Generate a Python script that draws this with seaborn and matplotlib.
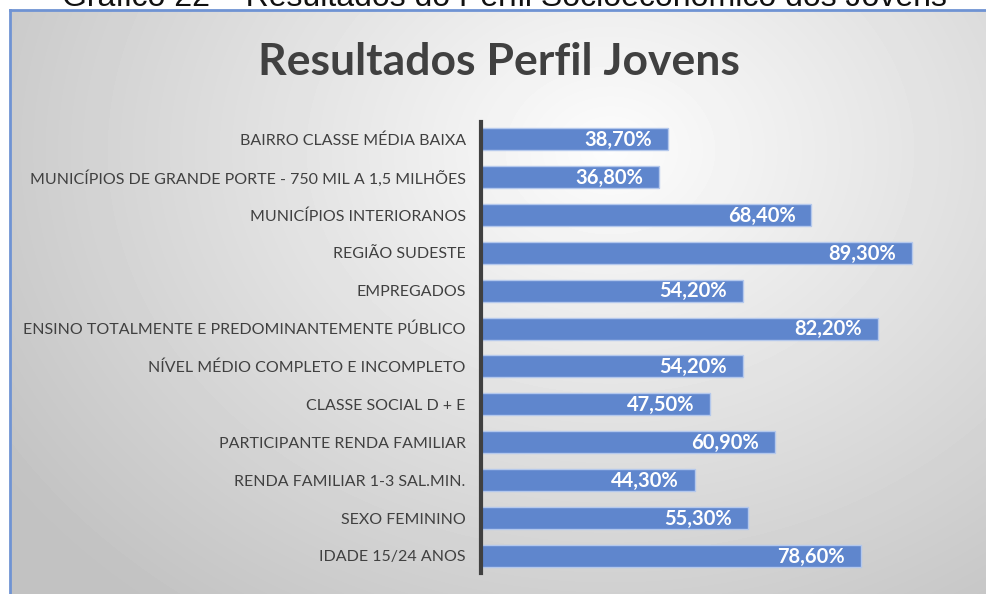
import numpy as np
import seaborn as sns
import matplotlib.pyplot as plt

categorias = [
    "BAIRRO CLASSE MÉDIA BAIXA",
    "MUNICÍPIOS DE GRANDE PORTE - 750 MIL A 1,5 MILHÕES",
    "MUNICÍPIOS INTERIORANOS",
    "REGIÃO SUDESTE",
    "EMPREGADOS",
    "ENSINO TOTALMENTE E PREDOMINANTEMENTE PÚBLICO",
    "NÍVEL MÉDIO COMPLETO E INCOMPLETO",
    "CLASSE SOCIAL D + E",
    "PARTICIPANTE RENDA FAMILIAR",
    "RENDA FAMILIAR 1-3 SAL.MIN.",
    "SEXO FEMININO",
    "IDADE 15/24 ANOS",
]
percentuais = [38.7, 36.8, 68.4, 89.3, 54.2, 82.2, 54.2, 47.5, 60.9, 44.3, 55.3, 78.6]
rotulos = ["38,70%", "36,80%", "68,40%", "89,30%", "54,20%", "82,20%",
           "54,20%", "47,50%", "60,90%", "44,30%", "55,30%", "78,60%"]

titulo = "Resultados Perfil Jovens"
legenda_figura = "Gráfico 22 – Resultados do Perfil Socioeconômico dos Jovens"

sns.set_theme(style="white")
plt.rcParams["font.family"] = ["Lato", "DejaVu Sans"]

fig = plt.figure(figsize=(9.87, 5.94), dpi=100)
fig.patch.set_facecolor("white")

# fundo com gradiente radial dentro da moldura
bg = fig.add_axes([10 / 987, 0, 1 - 10 / 987, 1 - 10 / 594])
yy, xx = np.mgrid[0:584, 0:977]
dist = np.sqrt(((xx - 600) / 700.0) ** 2 + ((yy - 140) / 560.0) ** 2)
tons = np.clip(0.99 - 0.22 * dist, 0.76, 0.99)
bg.imshow(tons, cmap="gray", vmin=0, vmax=1, aspect="auto", interpolation="bilinear")
bg.set_xticks([])
bg.set_yticks([])
for lado in ["left", "top"]:
    bg.spines[lado].set_color("#6F93D3")
    bg.spines[lado].set_linewidth(2)
for lado in ["right", "bottom"]:
    bg.spines[lado].set_visible(False)

# legenda do documento, cortada no topo como no original
fig.text(504 / 987, 1.0 + 2 / 594, legenda_figura, ha="center", va="center",
         fontsize=23, color="#111111", family=["Liberation Sans", "DejaVu Sans"])

fig.text(499 / 987, 1 - 62 / 594, titulo, ha="center", va="center",
         fontsize=32, fontweight="bold", color="#404040")

ax = fig.add_axes([481 / 987, 21 / 594, 483 / 987, 451 / 594])
ax.patch.set_alpha(0)
sns.barplot(x=percentuais, y=categorias, orient="h", color="#5F86CD",
            saturation=1, width=0.58, edgecolor="#B4C8EC", linewidth=1, ax=ax)
ax.set_xlim(0, 100)
ax.set_ylim(11.45, -0.45)
ax.set_xticks([])
ax.tick_params(axis="y", length=0, pad=11, labelsize=11.5, labelcolor="#404040")
for lado in ["top", "right", "bottom"]:
    ax.spines[lado].set_visible(False)
ax.spines["left"].set_color("#404040")
ax.spines["left"].set_linewidth(3)

for i, (v, t) in enumerate(zip(percentuais, rotulos)):
    ax.text(v - 3.3, i + 0.02, t, ha="right", va="center", color="white",
            fontsize=14.5, fontweight="bold")

fig.savefig("out.png", dpi=100)
